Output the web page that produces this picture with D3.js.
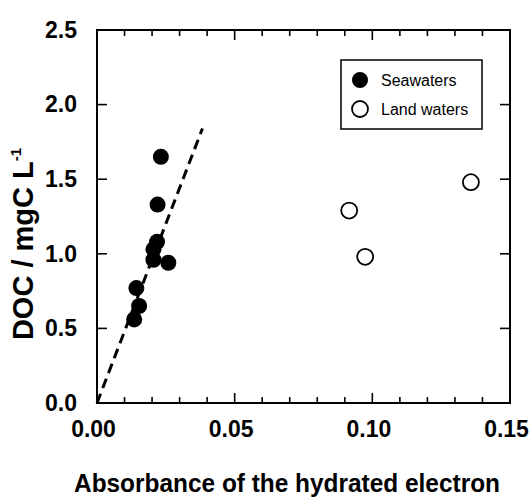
<!DOCTYPE html>
<html>
<head>
<meta charset="utf-8">
<script src="https://cdn.jsdelivr.net/npm/d3@7"></script>
<style>
  html, body { margin: 0; padding: 0; background: #fff; }
  svg { display: block; font-family: "Liberation Sans", Arial, Helvetica, sans-serif; }
</style>
</head>
<body>
<svg id="chart" width="529" height="503"></svg>
<script>
// ---- data ----
const seaAbs = [0.0232, 0.0220, 0.0218, 0.0205, 0.0205, 0.0259, 0.0143, 0.0153, 0.0135];
const seaDOC = [1.65, 1.33, 1.08, 1.03, 0.96, 0.94, 0.77, 0.65, 0.56];
const landAbs = [0.0916, 0.0974, 0.1358];
const landDOC = [1.29, 0.98, 1.48];
const fitAbs = [0.0, 0.0383];
const fitDOC = [0.0, 1.84];
const xTickValues = [0.00, 0.05, 0.10, 0.15];
const xTickLabels = ["0.00", "0.05", "0.10", "0.15"];
const yTickValues = [0.0, 0.5, 1.0, 1.5, 2.0, 2.5];
const yTickLabels = ["0.0", "0.5", "1.0", "1.5", "2.0", "2.5"];
const legendLabels = ["Seawaters", "Land waters"];

// ---- layout ----
const L = 97, R = 510, T = 30, B = 403;
const svg = d3.select("#chart");
const x = d3.scaleLinear().domain([0, 0.15]).range([L, R]);
const y = d3.scaleLinear().domain([0, 2.5]).range([B, T]);

const minorX = d3.range(0, 16).map(i => i / 100);
const majorSet = new Set(xTickValues.map(v => v.toFixed(2)));

// frame
svg.append("rect").attr("x", L).attr("y", T).attr("width", R - L).attr("height", B - T)
  .attr("fill", "none").attr("stroke", "#000").attr("stroke-width", 2);

// bottom axis (labels only; ticks drawn inward below)
const xAxisB = d3.axisBottom(x).tickValues(xTickValues).tickSize(0).tickPadding(18)
  .tickFormat(d => xTickLabels[xTickValues.findIndex(v => Math.abs(v - d) < 1e-9)]);
const gxb = svg.append("g").attr("transform", `translate(0,${B})`).call(xAxisB);
gxb.select(".domain").remove();
gxb.selectAll("text").attr("font-size", 23).attr("font-weight", "bold").attr("fill", "#000")
  .attr("font-family", "'Liberation Sans', Arial, sans-serif").attr("dx", -4);

// minor/major ticks bottom and top
const tickG = svg.append("g").attr("stroke", "#000").attr("stroke-width", 1.6);
minorX.forEach(v => {
  const len = majorSet.has(v.toFixed(2)) ? 10 : 6;
  if (v > 0 && v < 0.15) {
    tickG.append("line").attr("x1", x(v)).attr("x2", x(v)).attr("y1", B).attr("y2", B - len);
    tickG.append("line").attr("x1", x(v)).attr("x2", x(v)).attr("y1", T).attr("y2", T + len);
  }
});

// left axis
const yAxisL = d3.axisLeft(y).tickValues(yTickValues).tickSize(0).tickPadding(20)
  .tickFormat(d => yTickLabels[yTickValues.findIndex(v => Math.abs(v - d) < 1e-9)]);
const gyl = svg.append("g").attr("transform", `translate(${L},0)`).call(yAxisL);
gyl.select(".domain").remove();
gyl.selectAll("text").attr("font-size", 23).attr("font-weight", "bold").attr("fill", "#000")
  .attr("font-family", "'Liberation Sans', Arial, sans-serif");
yTickValues.forEach(v => {
  if (v > 0 && v < 2.5) {
    tickG.append("line").attr("x1", L).attr("x2", L + 10).attr("y1", y(v)).attr("y2", y(v));
    tickG.append("line").attr("x1", R).attr("x2", R - 10).attr("y1", y(v)).attr("y2", y(v));
  }
});

// fit line
const line = d3.line().x(d => x(d[0])).y(d => y(d[1]));
svg.append("path").datum(d3.zip(fitAbs, fitDOC)).attr("d", line)
  .attr("fill", "none").attr("stroke", "#000").attr("stroke-width", 3)
  .attr("stroke-dasharray", "10,6");

// points
svg.append("g").selectAll("circle").data(d3.zip(seaAbs, seaDOC)).join("circle")
  .attr("cx", d => x(d[0])).attr("cy", d => y(d[1])).attr("r", 8).attr("fill", "#000");
svg.append("g").selectAll("circle").data(d3.zip(landAbs, landDOC)).join("circle")
  .attr("cx", d => x(d[0])).attr("cy", d => y(d[1])).attr("r", 8)
  .attr("fill", "#fff").attr("stroke", "#000").attr("stroke-width", 1.8);

// legend
const lg = svg.append("g");
lg.append("rect").attr("x", 341).attr("y", 60).attr("width", 141).attr("height", 69)
  .attr("fill", "#fff").attr("stroke", "#000").attr("stroke-width", 1.5);
lg.append("circle").attr("cx", 360).attr("cy", 80).attr("r", 8).attr("fill", "#000");
lg.append("circle").attr("cx", 360).attr("cy", 109).attr("r", 8).attr("fill", "#fff")
  .attr("stroke", "#000").attr("stroke-width", 1.8);
lg.append("text").attr("x", 381).attr("y", 86).attr("font-size", 16).text(legendLabels[0]);
lg.append("text").attr("x", 381).attr("y", 115).attr("font-size", 16).text(legendLabels[1]);

// axis titles
svg.append("text").attr("x", 287).attr("y", 492).attr("text-anchor", "middle")
  .attr("font-size", 25).attr("font-weight", "bold")
  .attr("textLength", 426).attr("lengthAdjust", "spacingAndGlyphs")
  .text("Absorbance of the hydrated electron");

const yt = svg.append("text").attr("transform", "translate(33,244) rotate(-90)")
  .attr("text-anchor", "middle").attr("font-size", 29).attr("font-weight", "bold");
yt.append("tspan").text("DOC / mgC L");
yt.append("tspan").attr("font-size", 15).attr("dy", -12).text("-1");
</script>
</body>
</html>
